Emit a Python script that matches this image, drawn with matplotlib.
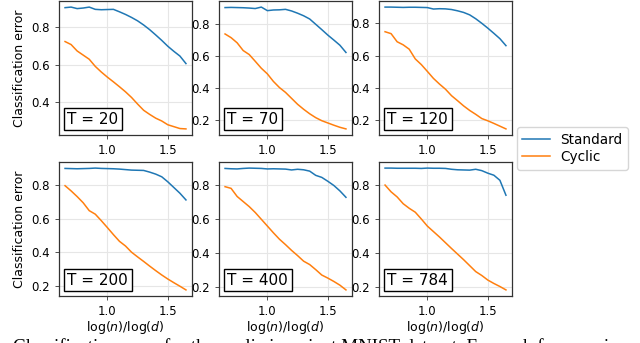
import matplotlib
matplotlib.use("Agg")
import matplotlib.pyplot as plt
from matplotlib.offsetbox import AnchoredText
from matplotlib.ticker import MultipleLocator

x_vals = [0.65, 0.70, 0.75, 0.80, 0.85, 0.90, 0.95, 1.00, 1.05, 1.10, 1.15,
          1.20, 1.25, 1.30, 1.35, 1.40, 1.45, 1.50, 1.55, 1.60, 1.65]

T_labels = ["T = 20", "T = 70", "T = 120", "T = 200", "T = 400", "T = 784"]

standard_T20 = [0.902, 0.905, 0.897, 0.900, 0.905, 0.893, 0.891, 0.892, 0.893, 0.880, 0.866,
                0.850, 0.832, 0.810, 0.785, 0.757, 0.728, 0.697, 0.670, 0.645, 0.605]
cyclic_T20 = [0.722, 0.706, 0.672, 0.650, 0.628, 0.590, 0.560, 0.533, 0.508, 0.482, 0.455,
              0.425, 0.390, 0.357, 0.335, 0.315, 0.300, 0.280, 0.270, 0.260, 0.258]

standard_T70 = [0.899, 0.900, 0.899, 0.898, 0.896, 0.893, 0.902, 0.880, 0.884, 0.885, 0.888,
                0.878, 0.864, 0.848, 0.828, 0.795, 0.762, 0.728, 0.697, 0.665, 0.620]
cyclic_T70 = [0.735, 0.712, 0.680, 0.632, 0.607, 0.565, 0.522, 0.487, 0.440, 0.402, 0.372,
              0.335, 0.298, 0.267, 0.239, 0.215, 0.196, 0.182, 0.168, 0.155, 0.145]

standard_T120 = [0.900, 0.900, 0.899, 0.898, 0.899, 0.899, 0.898, 0.897, 0.888, 0.890, 0.889,
                 0.885, 0.877, 0.867, 0.852, 0.828, 0.800, 0.770, 0.738, 0.705, 0.662]
cyclic_T120 = [0.748, 0.736, 0.686, 0.667, 0.640, 0.580, 0.545, 0.503, 0.460, 0.425, 0.393,
               0.353, 0.322, 0.290, 0.262, 0.238, 0.212, 0.198, 0.182, 0.165, 0.148]

standard_T200 = [0.900, 0.899, 0.898, 0.899, 0.900, 0.902, 0.900, 0.899, 0.898, 0.896, 0.893,
                 0.890, 0.889, 0.888, 0.878, 0.866, 0.850, 0.820, 0.786, 0.752, 0.712]
cyclic_T200 = [0.797, 0.766, 0.732, 0.695, 0.648, 0.627, 0.588, 0.547, 0.505, 0.465, 0.437,
               0.400, 0.372, 0.345, 0.317, 0.290, 0.264, 0.240, 0.218, 0.197, 0.175]

standard_T400 = [0.901, 0.899, 0.898, 0.901, 0.903, 0.902, 0.901, 0.898, 0.899, 0.898, 0.897,
                 0.892, 0.896, 0.893, 0.885, 0.860, 0.848, 0.825, 0.800, 0.768, 0.730]
cyclic_T400 = [0.793, 0.783, 0.735, 0.705, 0.675, 0.640, 0.600, 0.560, 0.520, 0.482, 0.450,
               0.416, 0.385, 0.352, 0.332, 0.302, 0.270, 0.252, 0.232, 0.210, 0.182]

standard_T784 = [0.900, 0.900, 0.899, 0.899, 0.899, 0.899, 0.898, 0.900, 0.899, 0.899, 0.898,
                 0.893, 0.890, 0.889, 0.888, 0.893, 0.885, 0.870, 0.858, 0.828, 0.740]
cyclic_T784 = [0.800, 0.760, 0.730, 0.690, 0.663, 0.640, 0.600, 0.558, 0.526, 0.494, 0.460,
               0.426, 0.393, 0.360, 0.325, 0.290, 0.267, 0.240, 0.220, 0.202, 0.182]

standard_all = [standard_T20, standard_T70, standard_T120, standard_T200, standard_T400, standard_T784]
cyclic_all = [cyclic_T20, cyclic_T70, cyclic_T120, cyclic_T200, cyclic_T400, cyclic_T784]

caption = "Classification error for the cyclic invariant MNIST dataset. For each frequencies"

W, H = 640, 343
fig = plt.figure(figsize=(W / 100, H / 100), dpi=100)

lefts = [59, 219, 379]
tops = [1, 162]
aw, ah = 133, 134

blue = "#1f77b4"
orange = "#ff7f0e"

for i in range(6):
    r, c = divmod(i, 3)
    ax = fig.add_axes([lefts[c] / W, 1 - (tops[r] + ah) / H, aw / W, ah / H])
    l1, = ax.plot(x_vals, standard_all[i], color=blue, lw=1.1, label="Standard")
    l2, = ax.plot(x_vals, cyclic_all[i], color=orange, lw=1.1, label="Cyclic")
    ax.grid(True, color="#e6e6e6", lw=0.8)
    ax.set_axisbelow(True)
    ax.xaxis.set_major_locator(MultipleLocator(0.5))
    ax.yaxis.set_major_locator(MultipleLocator(0.2))
    ax.tick_params(labelsize=8.5, length=3, width=0.6, color="#333333")
    for s in ax.spines.values():
        s.set_color("#333333")
        s.set_linewidth(0.9)
    at = AnchoredText(T_labels[i], loc="lower left", prop=dict(size=11),
                      frameon=True, pad=0.25, borderpad=0.3)
    at.patch.set_boxstyle("square,pad=0")
    at.patch.set_edgecolor("black")
    at.patch.set_linewidth(1.0)
    ax.add_artist(at)
    if c == 0:
        ax.set_ylabel("Classification error", fontsize=9)
    if r == 1:
        ax.set_xlabel(r"log($n$)/log($d$)", fontsize=9, labelpad=1)

fig.legend([l1, l2], ["Standard", "Cyclic"], loc="center left",
           bbox_to_anchor=(517 / W, 1 - 148.5 / H), fontsize=9.8, frameon=True,
           handlelength=2.0, borderpad=0.4, labelspacing=0.25, borderaxespad=0)

fig.text(13 / W, 1 - 338.5 / H, caption, fontsize=13.7, family="Liberation Serif",
         va="top", ha="left")

fig.savefig("out.png", dpi=100)
